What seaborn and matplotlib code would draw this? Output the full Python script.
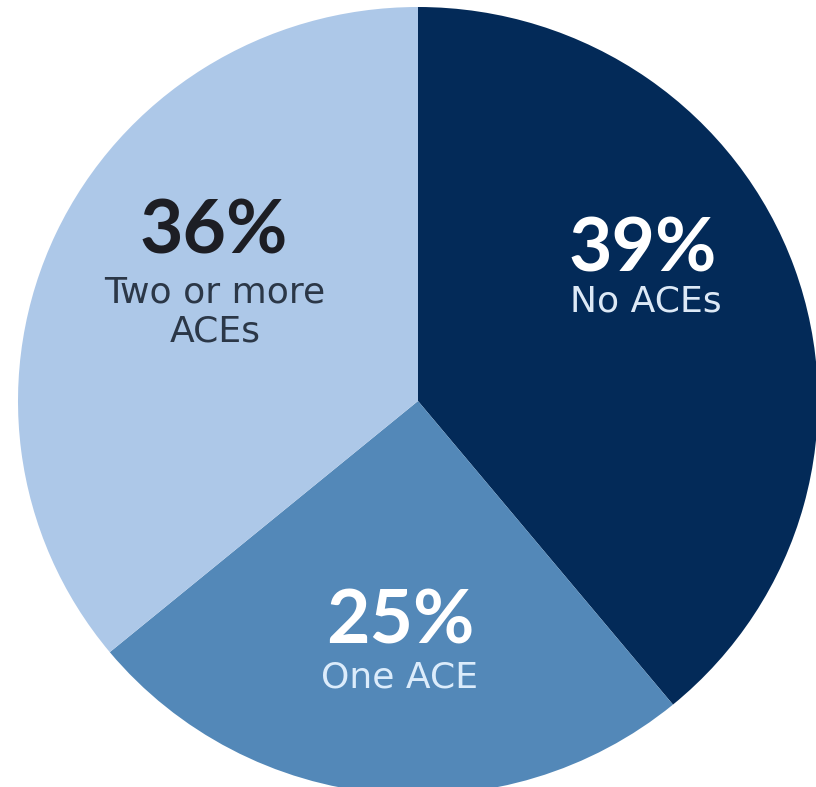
import matplotlib
matplotlib.use("Agg")
import matplotlib.pyplot as plt
import seaborn as sns

# Share of respondents by number of adverse childhood experiences
categories = ["No ACEs", "One ACE", "Two or more\nACEs"]
shares = [39, 25, 36]
pct_labels = ["39%", "25%", "36%"]

colors = ["#032a58", "#5388b8", "#adc8e8"]
pct_colors = ["#ffffff", "#ffffff", "#1d1e24"]
cat_colors = ["#dde9f6", "#dcecfb", "#2b3747"]

sns.set_theme(style="white")
plt.rcParams["font.family"] = ["Lato", "DejaVu Sans"]

W, H = 816, 787
fig = plt.figure(figsize=(W / 100, H / 100), dpi=100)
ax = fig.add_axes([0, 0, 1, 1])

# pie centre and radii in pixels
cx, cy, rx, ry = 418, 401, 400, 394

ax.pie(shares, colors=colors, startangle=90, counterclock=False,
       radius=1, center=(0, 0),
       wedgeprops=dict(linewidth=0, antialiased=True))
ax.set_aspect("auto")
ax.set_xlim(-cx / rx, (W - cx) / rx)
ax.set_ylim(-(H - cy) / ry, cy / ry)
ax.axis("off")


def px(x, y):
    return (x - cx) / rx, (cy - y) / ry


# label anchor points (pixel positions of the percentage and caption)
pct_pos = [(643, 250), (400, 622), (214, 232)]
cat_pos = [(646, 302), (400, 678), (215, 312)]

for i in range(len(shares)):
    ax.text(*px(*pct_pos[i]), pct_labels[i], ha="center", va="center",
            fontsize=54, fontweight="bold", color=pct_colors[i])
    ax.text(*px(*cat_pos[i]), categories[i], ha="center", va="center",
            fontsize=26, color=cat_colors[i], linespacing=1.2,
            family=["DejaVu Sans"])

fig.savefig("out.png", dpi=100, facecolor="white")
